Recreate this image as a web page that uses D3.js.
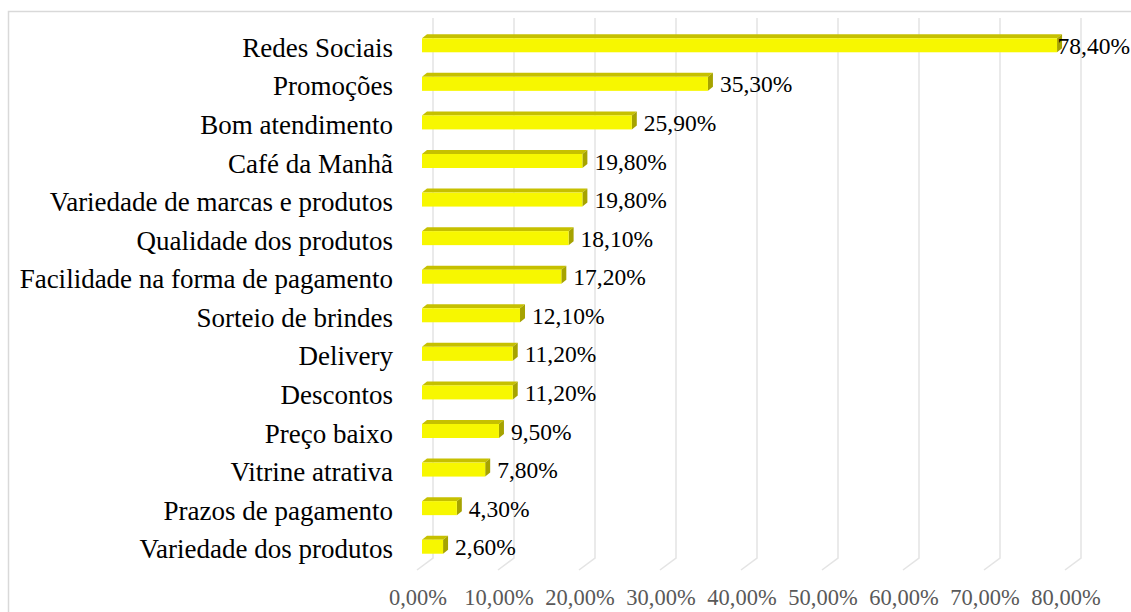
<!DOCTYPE html>
<html><head><meta charset="utf-8">
<script src="https://cdn.jsdelivr.net/npm/d3@7/dist/d3.min.js"></script>
<style>html,body{margin:0;padding:0;background:#fff;}svg{display:block;}
text{font-family:"Liberation Serif","Times New Roman",serif;}</style>
</head><body><svg id="c" width="1131" height="612"></svg>
<script>
const categories = ["Redes Sociais","Promoções","Bom atendimento","Café da Manhã","Variedade de marcas e produtos","Qualidade dos produtos","Facilidade na forma de pagamento","Sorteio de brindes","Delivery","Descontos","Preço baixo","Vitrine atrativa","Prazos de pagamento","Variedade dos produtos"];
const values = [78.4,35.3,25.9,19.8,19.8,18.1,17.2,12.1,11.2,11.2,9.5,7.8,4.3,2.6];
const valueLabels = ["78,40%","35,30%","25,90%","19,80%","19,80%","18,10%","17,20%","12,10%","11,20%","11,20%","9,50%","7,80%","4,30%","2,60%"];
const tickValues = [0,10,20,30,40,50,60,70,80];
const tickLabels = ["0,00%","10,00%","20,00%","30,00%","40,00%","50,00%","60,00%","70,00%","80,00%"];

const svg = d3.select("#c");
// frame
svg.append("path").attr("d","M8.5,614 V11.5 H1135").attr("fill","none").attr("stroke","#d9d9d9").attr("stroke-width",1.5);

const x = d3.scaleLinear().domain([0,80]).range([417,1065]);
const y = d3.scaleBand().domain(categories).range([26,566]);
const dep = 5, depY = 4, floorBack = 16, wallTop = 18, wallBottom = 558, floorFront = 570;

// gridlines (back wall + floor)
svg.append("g").selectAll("path").data(tickValues).join("path")
  .attr("d", v => `M${x(v)+floorBack},${wallTop} V${wallBottom} L${x(v)},${floorFront}`)
  .attr("fill","none").attr("stroke","#e4e4e4").attr("stroke-width",1.5);

// tick labels
svg.append("g").selectAll("text").data(tickValues).join("text")
  .attr("x", v => x(v)+1).attr("y", 605).attr("text-anchor","middle")
  .attr("font-size",22.5).attr("fill","#595959")
  .text((v,i) => tickLabels[i]);

// bars
const bars = svg.append("g").selectAll("g").data(categories).join("g");
bars.each(function(c,i){
  const g = d3.select(this);
  const cy = y(c) + y.bandwidth()/2;
  const x0 = x(0)+dep, x1 = x(values[i])+dep;
  const top = cy-7, bot = cy+7;
  g.append("path").attr("d",`M${x0},${top} L${x0+dep},${top-depY} L${x1+dep},${top-depY} L${x1},${top} Z`).attr("fill","#c6c000");
  g.append("path").attr("d",`M${x1},${top} L${x1+dep},${top-depY} L${x1+dep},${bot-depY} L${x1},${bot} Z`).attr("fill","#a6a300");
  g.append("rect").attr("x",x0).attr("y",top).attr("width",x1-x0).attr("height",bot-top).attr("fill","#f7f700");
  const t = g.append("text").attr("x",x1+12).attr("y",cy+8.5)
    .attr("font-size",23.5).attr("fill","#000").text(valueLabels[i]);
  const w = t.node().getComputedTextLength();
  if (x1+12+w > 1130) t.attr("x", Math.min(x1+dep, 1130-w));
});

// category labels
svg.append("g").selectAll("text").data(categories).join("text")
  .attr("x",393).attr("y", c => y(c)+y.bandwidth()/2+11.5).attr("text-anchor","end")
  .attr("font-size",27).attr("fill","#000").text(c=>c);
</script></body></html>
